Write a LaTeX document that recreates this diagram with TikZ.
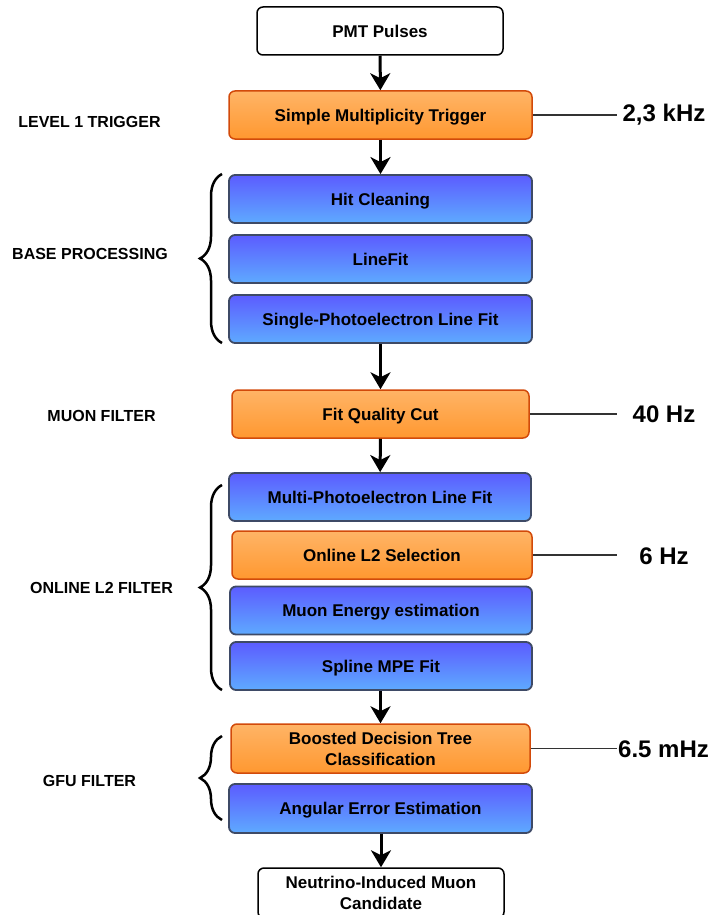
\documentclass[tikz,border=0pt]{standalone}
\usepackage{fontspec}
\setmainfont{Liberation Sans}
\usetikzlibrary{arrows.meta,decorations.pathreplacing}
\definecolor{otop}{HTML}{FFB466}
\definecolor{obot}{HTML}{FF9830}
\definecolor{oline}{HTML}{D24A0A}
\definecolor{btop}{HTML}{5C5CFF}
\definecolor{bbot}{HTML}{5EAAFF}
\definecolor{bline}{HTML}{3E4A66}
\definecolor{rline}{HTML}{333333}
\begin{document}
\begin{tikzpicture}[x=1pt,y=-1pt,
  box/.style={rounded corners=6pt, minimum height=48pt, inner sep=0pt, align=center,
    font=\fontsize{17}{21}\selectfont\bfseries, text=black},
  oneline/.style={text height=12.4pt, text depth=0pt},
  whitebox/.style={box, draw=black, line width=1.5pt, fill=white},
  orangebox/.style={box, draw=oline, line width=1.5pt, top color=otop, bottom color=obot},
  bluebox/.style={box, draw=bline, line width=1.8pt, top color=btop, bottom color=bbot},
  lab/.style={font=\fontsize{16}{19}\selectfont\bfseries, text=black, inner sep=0pt},
  rate/.style={font=\fontsize{24}{28}\selectfont\bfseries, text=black, inner sep=0pt},
  flow/.style={line width=3pt, -{Stealth[length=17pt,width=20pt,inset=5pt]}},
  rateline/.style={draw=rline, line width=1.5pt},
  bracebar/.style={line width=2.5pt, decorate, decoration={brace, amplitude=22pt}}
]
\useasboundingbox (0,0) rectangle (711,915);

% boxes
\node[whitebox, oneline, minimum width=246pt] (pmt) at (380,31) {PMT Pulses};
\node[orangebox, oneline, minimum width=303pt] (smt) at (380.5,115) {Simple Multiplicity Trigger};
\node[bluebox, oneline, minimum width=303pt] (hit) at (380.5,199) {Hit Cleaning};
\node[bluebox, oneline, minimum width=303pt] (lf) at (380.5,259) {LineFit};
\node[bluebox, oneline, minimum width=303pt] (spe) at (380.5,319) {Single-Photoelectron Line Fit};
\node[orangebox, oneline, minimum width=297pt] (fqc) at (380.5,414) {Fit Quality Cut};
\node[bluebox, oneline, minimum width=302pt] (mpe) at (380,497) {Multi-Photoelectron Line Fit};
\node[orangebox, oneline, minimum width=300pt] (ltwo) at (382,555) {Online L2 Selection};
\node[bluebox, oneline, minimum width=302pt] (men) at (381,610.5) {Muon Energy estimation};
\node[bluebox, oneline, minimum width=302pt] (spl) at (381,666) {Spline MPE Fit};
\node[orangebox, minimum width=299pt, minimum height=49pt] (bdt) at (380.5,748.5) {Boosted Decision Tree\\Classification};
\node[bluebox, oneline, minimum width=303pt, minimum height=49pt] (ang) at (380.5,808.5) {Angular Error Estimation};
\node[whitebox, minimum width=246pt, minimum height=50pt] (nu) at (381,893) {Neutrino-Induced Muon\\Candidate};

% flow arrows
\draw[flow] (pmt) -- (smt);
\draw[flow] (smt) -- (hit);
\draw[flow] (spe) -- (fqc);
\draw[flow] (fqc) -- (mpe);
\draw[flow] (spl.south -| bdt.north) -- (bdt);
\draw[flow] (ang.south -| nu.north) -- (nu);

% left labels
\node[lab] (l1) at (89.5,122) {LEVEL 1 TRIGGER};
\node[lab] (bp) at (90,254) {BASE PROCESSING};
\node[lab] (mf) at (101.5,416) {MUON FILTER};
\node[lab] (ol) at (101.5,588) {ONLINE L2 FILTER};
\node[lab] (gf) at (89.5,781) {GFU FILTER};

% braces
\coordinate (b1a) at (222,343); \coordinate (b1b) at (222,174);
\coordinate (b2a) at (222,690); \coordinate (b2b) at (222,485);
\coordinate (b3a) at (222,820); \coordinate (b3b) at (222,736);
\draw[bracebar] (b1a) -- (b1b);
\draw[bracebar] (b2a) -- (b2b);
\draw[bracebar] (b3a) -- (b3b);

% rates
\node[rate] (r1) at (664,115) {2,3 kHz};
\node[rate] (r2) at (664,414) {40 Hz};
\node[rate] (r3) at (664,556) {6 Hz};
\node[rate] (r4) at (663.5,749) {6.5 mHz};
\coordinate (e1) at (617,115);
\coordinate (e2) at (617,414);
\coordinate (e3) at (617,555);
\coordinate (e4) at (617,748.5);
\draw[rateline] (smt.east) -- (e1);
\draw[rateline] (fqc.east) -- (e2);
\draw[rateline] (ltwo.east) -- (e3);
\draw[rateline] (bdt.east) -- (e4);
\end{tikzpicture}
\end{document}
